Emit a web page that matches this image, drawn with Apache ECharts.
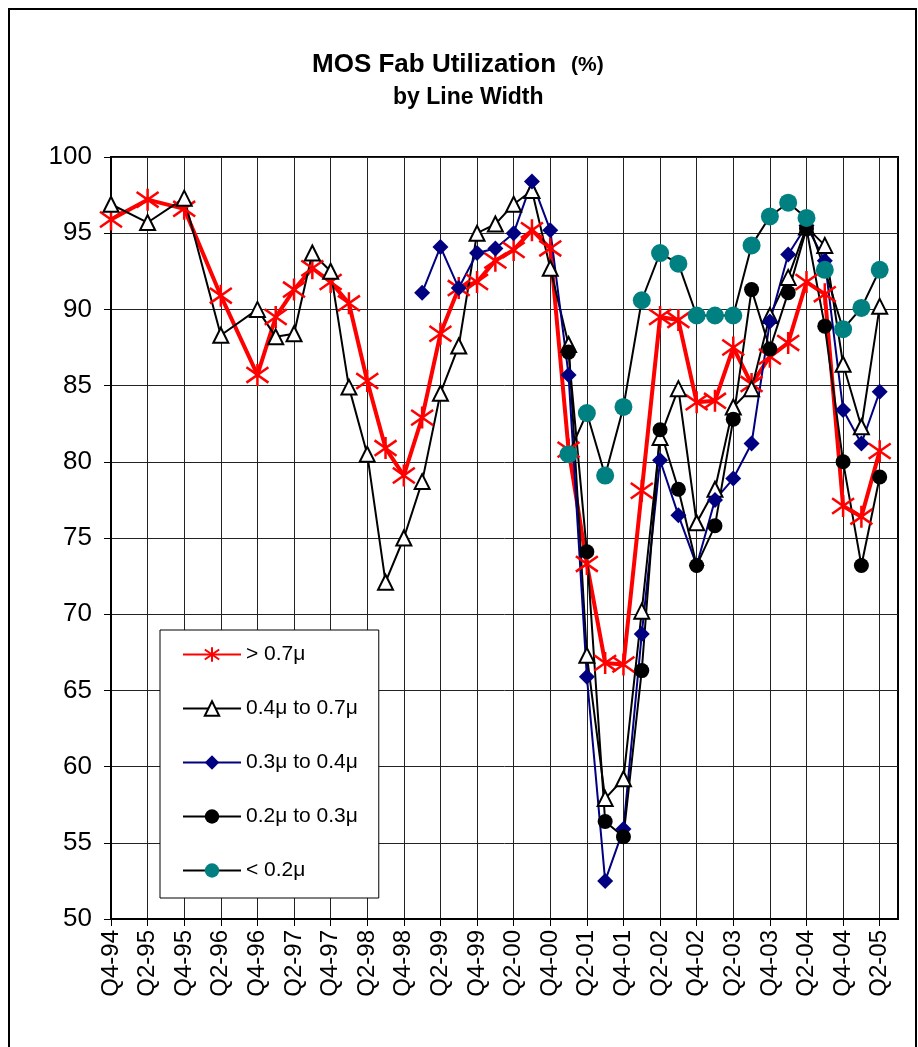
<!DOCTYPE html>
<html><head><meta charset="utf-8">
<script src="https://cdn.jsdelivr.net/npm/echarts@6/dist/echarts.min.js"></script>
<style>html,body{margin:0;padding:0;background:#fff}#c{width:918px;height:1047px}</style>
</head><body><div id="c"></div>
<script>
var categories = ['Q4-94','Q1-95','Q2-95','Q3-95','Q4-95','Q1-96','Q2-96','Q3-96','Q4-96','Q1-97','Q2-97','Q3-97','Q4-97','Q1-98','Q2-98','Q3-98','Q4-98','Q1-99','Q2-99','Q3-99','Q4-99','Q1-00','Q2-00','Q3-00','Q4-00','Q1-01','Q2-01','Q3-01','Q4-01','Q1-02','Q2-02','Q3-02','Q4-02','Q1-03','Q2-03','Q3-03','Q4-03','Q1-04','Q2-04','Q3-04','Q4-04','Q1-05','Q2-05','Q3-05'];
var N = null;
var over07 = [95.9,N,97.2,N,96.6,N,90.9,N,85.7,89.5,91.3,92.7,91.8,90.4,85.3,80.9,79.1,82.9,88.4,91.4,91.8,93.2,93.9,95.2,94.0,80.8,73.3,66.8,66.7,78.1,89.5,89.3,83.9,84.0,87.5,85.1,86.9,87.8,91.8,91.0,77.1,76.4,80.7,N];
var w04to07 = [96.9,N,95.7,N,97.3,N,88.3,N,90.0,88.2,88.4,93.7,92.5,84.9,80.5,72.1,75.0,78.7,84.5,87.6,95.0,95.6,96.9,97.8,92.7,87.7,67.3,57.9,59.2,70.2,81.6,84.8,76.0,78.2,83.6,84.8,89.6,92.1,95.4,94.2,86.4,82.3,90.2,N];
var w03to04 = [N,N,N,N,N,N,N,N,N,N,N,N,N,N,N,N,N,91.1,94.1,91.4,93.7,94.0,95.0,98.4,95.2,85.7,65.9,52.5,55.9,68.7,80.1,76.5,73.2,77.5,78.9,81.2,89.2,93.6,95.5,93.2,83.4,81.2,84.6,N];
var w02to03 = [N,N,N,N,N,N,N,N,N,N,N,N,N,N,N,N,N,N,N,N,N,N,N,N,N,87.2,74.1,56.4,55.4,66.3,82.1,78.2,73.2,75.8,82.8,91.3,87.4,91.1,95.3,88.9,80.0,73.2,79.0,N];
var under02 = [N,N,N,N,N,N,N,N,N,N,N,N,N,N,N,N,N,N,N,N,N,N,N,N,N,80.5,83.2,79.1,83.6,90.6,93.7,93.0,89.6,89.6,89.6,94.2,96.1,97.0,96.0,92.6,88.7,90.1,92.6,N];
var seriesNames = ['> 0.7\u03bc','0.4\u03bc to 0.7\u03bc','0.3\u03bc to 0.4\u03bc','0.2\u03bc to 0.3\u03bc','< 0.2\u03bc'];
var yTicks = [50,55,60,65,70,75,80,85,90,95,100];

var FONT = 'Liberation Sans, Arial, sans-serif';
var chart = echarts.init(document.getElementById('c'), null, {renderer:'canvas'});
var asterisk = 'path://M10,0 L10,20 M2,3 L18,17 M2,17 L18,3';
function mk(name, data, lineColor, lineWidth, symbol, size, fill, border, bw){
  return {name:name, type:'line', data:data, connectNulls:true,
    symbol:symbol, symbolSize:size, showAllSymbol:true,
    lineStyle:{color:lineColor, width:lineWidth},
    itemStyle:{color:fill, borderColor:border, borderWidth:bw},
    emphasis:{disabled:true}, animation:false};
}
chart.setOption({
  animation:false,
  backgroundColor:'#fff',
  title:[
    {text:'{a|MOS Fab Utilization}   {b|(%)}', left:307, top:47,
     textStyle:{rich:{a:{fontFamily:FONT,fontSize:26,fontWeight:'bold',color:'#000'},
                     b:{fontFamily:FONT,fontSize:21,fontWeight:'bold',color:'#000'}}}},
    {text:'by Line Width', left:388, top:81,
     textStyle:{fontFamily:FONT,fontSize:23,fontWeight:'bold',color:'#000'}}
  ],
  graphic:[{type:'rect', shape:{x:9,y:9,width:907,height:1080}, style:{fill:'none',stroke:'#000',lineWidth:2}, silent:true}],
  grid:{left:111, top:157, right:20, bottom:128, show:true, borderColor:'#000', borderWidth:2, containLabel:false},
  legend:{
    orient:'vertical', left:160, top:630,
    data:seriesNames,
    backgroundColor:'#fff', borderColor:'#000', borderWidth:1,
    padding:[14,21,17,22], itemGap:33, itemWidth:58, itemHeight:18,
    textStyle:{fontFamily:FONT, fontSize:21, color:'#000'},
    selectedMode:false
  },
  xAxis:{type:'category', data:categories, boundaryGap:false,
    axisLine:{lineStyle:{color:'#000', width:2}},
    axisTick:{show:true, interval:1, length:7, lineStyle:{color:'#000'}},
    axisLabel:{interval:1, rotate:90, margin:11, fontFamily:FONT, fontSize:24, color:'#000'},
    splitLine:{show:true, interval:1, lineStyle:{color:'#222', width:1}}},
  yAxis:{type:'value', min:yTicks[0], max:yTicks[yTicks.length-1], interval:5,
    axisLine:{show:true, lineStyle:{color:'#000', width:2}},
    axisTick:{show:true, length:7, lineStyle:{color:'#000'}},
    axisLabel:{margin:19, fontFamily:FONT, fontSize:26, color:'#000'},
    splitLine:{show:true, lineStyle:{color:'#222', width:1}}},
  series:[
    mk(seriesNames[0], over07, '#ff0000', 4, asterisk, 22, '#ff0000', '#ff0000', 2.5),
    mk(seriesNames[1], w04to07, '#000000', 2, 'triangle', 15, '#ffffff', '#000000', 2),
    mk(seriesNames[2], w03to04, '#000080', 2, 'diamond', 16, '#000080', '#000080', 0),
    mk(seriesNames[3], w02to03, '#000000', 2, 'circle', 15, '#000000', '#000000', 0),
    mk(seriesNames[4], under02, '#000000', 2, 'circle', 18, '#008080', '#008080', 0)
  ]
});
</script></body></html>
